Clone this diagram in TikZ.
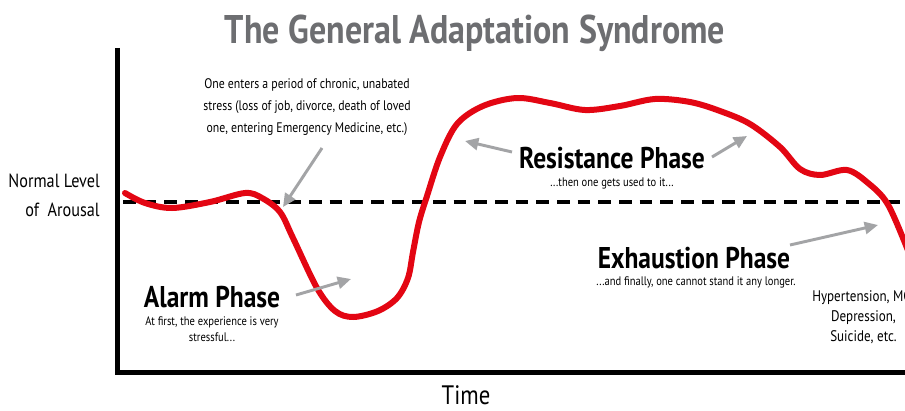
\documentclass[tikz,border=0pt]{standalone}
\usepackage{fontspec}
\setmainfont{PT Sans}[FakeStretch=0.85]
\usetikzlibrary{arrows.meta}
\definecolor{curvered}{HTML}{E30613}
\definecolor{titlegray}{HTML}{6D6E71}
\definecolor{arrowgray}{HTML}{A3A4A6}
\begin{document}
\begin{tikzpicture}[x=0.75pt,y=-0.75pt,
  titletext/.style={font=\bfseries\fontsize{30}{34}\selectfont, text=titlegray, inner sep=0pt},
  phasetext/.style={font=\bfseries\fontsize{22.5}{26}\selectfont, inner sep=0pt},
  smalltext/.style={font=\fontsize{10.4}{16.5}\selectfont, align=center, inner sep=0pt},
  subtext/.style={font=\fontsize{9.3}{11.5}\selectfont, align=center, inner sep=0pt},
  sidetext/.style={font=\fontsize{14.3}{21.5}\selectfont, align=right, inner sep=0pt},
  righttext/.style={font=\fontsize{11.5}{15}\selectfont, align=center, inner sep=0pt},
  axisline/.style={line width=3.75pt, black},
  normline/.style={line width=3pt, black, dash pattern=on 9.5pt off 6pt},
  stresscurve/.style={line width=4.5pt, curvered, line cap=round, line join=round},
  pointer/.style={line width=2.2pt, arrowgray, -{Triangle[length=10pt,width=9pt]}}
]
\useasboundingbox (0,0) rectangle (905,410);
\fill[white] (0,0) rectangle (905,410);
\begin{scope}
\clip (0,0) rectangle (905,410);
% title
\node[titletext] (title) at (475,33) {The General Adaptation Syndrome};
% axes
\coordinate (ytop) at (117,48);
\coordinate (origin) at (117,372);
\coordinate (xend) at (910,372);
\draw[axisline] (ytop) -- (origin) -- (xend);
% normal level
\coordinate (nstart) at (123,202);
\coordinate (nend) at (910,202);
\draw[normline] (nstart) -- (nend);
\node[sidetext, anchor=east] (normal) at (100,195) {Normal Level\\of~~Arousal};
% curve
\draw[stresscurve] plot[smooth, tension=0.55] coordinates {
(125,193) (145,203) (172,208) (210,202) (245,193) (262,198) (280,212) (293,238)
(317,288) (335,311) (353,317) (378,311) (397,298) (408,278) (413,252) (419,222)
(427,196) (440,157) (457,124) (483,106) (517,98) (550,103) (585,110) (620,106)
(655,99) (690,102) (720,111) (750,124) (780,147) (800,169) (820,175) (847,170)
(868,183) (887,203) (905,243) (915,270)};
% annotations
\node[smalltext] (chronic) at (307,107) {One enters a period of chronic, unabated\\stress (loss of job, divorce, death of loved\\one, entering Emergency Medicine, etc.)};
\node[phasetext] (alarm) at (212,297) {Alarm Phase};
\node[subtext] (alarmsub) at (212,329) {At first, the experience is very\\stressful...};
\node[phasetext] (resist) at (612,158) {Resistance Phase};
\node[subtext] (resistsub) at (612,183) {...then one gets used to it...};
\node[phasetext] (exhaust) at (694,258) {Exhaustion Phase};
\node[subtext] (exhaustsub) at (696,282) {...and finally, one cannot stand it any longer.};
\node[righttext, anchor=north west, align=center] (outcome) at (812,290) {Hypertension, MCI\\Depression,\\Suicide, etc.};
\node[font=\fontsize{20}{24}\selectfont, inner sep=0pt] (time) at (466,395) {Time};
% pointers
\coordinate (p1s) at (322,148); \coordinate (p1e) at (283,207);
\coordinate (p2s) at (296,295); \coordinate (p2e) at (351,279);
\coordinate (p3s) at (512,152); \coordinate (p3e) at (465,141);
\coordinate (p4s) at (712,157); \coordinate (p4e) at (747,136);
\coordinate (p5s) at (790,245); \coordinate (p5e) at (878,225);
\draw[pointer] (p1s) -- (p1e);
\draw[pointer] (p2s) -- (p2e);
\draw[pointer] (p3s) -- (p3e);
\draw[pointer] (p4s) -- (p4e);
\draw[pointer] (p5s) -- (p5e);
\end{scope}
\end{tikzpicture}
\end{document}
